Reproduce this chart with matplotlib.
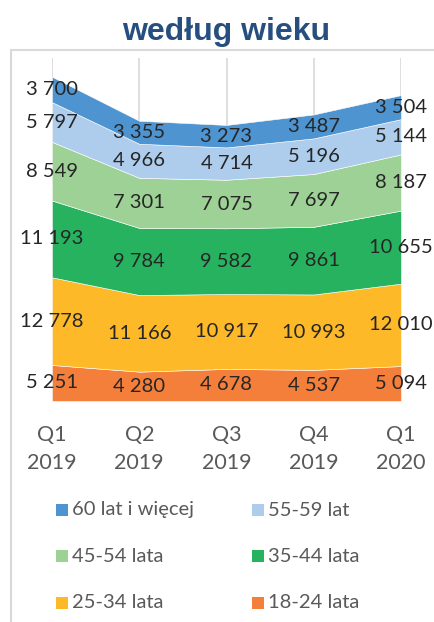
import matplotlib
matplotlib.use("Agg")
import matplotlib.pyplot as plt
from matplotlib.patches import Rectangle
import numpy as np

W, H = 434, 622
quarters = ['Q1\n2019', 'Q2\n2019', 'Q3\n2019', 'Q4\n2019', 'Q1\n2020']

# bottom to top
series_names = ['18-24 lata', '25-34 lata', '35-44 lata', '45-54 lata', '55-59 lat', '60 lat i więcej']
v_18_24 = [5251, 4280, 4678, 4537, 5094]
v_25_34 = [12778, 11166, 10917, 10993, 12010]
v_35_44 = [11193, 9784, 9582, 9861, 10655]
v_45_54 = [8549, 7301, 7075, 7697, 8187]
v_55_59 = [5797, 4966, 4714, 5196, 5144]
v_60 = [3700, 3355, 3273, 3487, 3504]
colors = ['#f47f3a', '#fdb927', '#27b25f', '#9dd195', '#aecdec', '#4e94d0']

values = [v_18_24, v_25_34, v_35_44, v_45_54, v_55_59, v_60]

plt.rcParams['font.family'] = ['Lato', 'DejaVu Sans']

fig = plt.figure(figsize=(W / 100, H / 100), dpi=100)

# outer frame
fig.patches.append(Rectangle((11 / W, -0.1), 2, 1.1 - 50 / H, transform=fig.transFigure,
                             fill=False, edgecolor='#d9d9d9', linewidth=1.5))

fig.text(226 / W, 1 - 32 / H, 'według wieku', ha='center', va='center',
         fontsize=23, fontweight='bold', color='#264f80', family='Liberation Sans')

left, right, top, bottom = 52, 401, 58, 401
ax = fig.add_axes([left / W, 1 - bottom / H, (right - left) / W, (bottom - top) / H])
x = np.arange(len(quarters))
ax.stackplot(x, *values, colors=colors, edgecolor='white', linewidth=0.4)
ax.set_xlim(0, 4)
ax.set_ylim(0, 50000)
for s in ax.spines.values():
    s.set_visible(False)
ax.set_yticks([])
ax.set_xticks(x)
ax.set_xticklabels(quarters, fontsize=15.5, color='#595959', linespacing=1.5)
ax.tick_params(axis='x', length=0, pad=17)
ax.grid(axis='x', color='#d9d9d9', linewidth=1.2)
ax.set_axisbelow(True)

base = np.zeros(len(quarters))
for vals in values:
    vals = np.array(vals)
    mids = base + vals / 2
    for xi, yi, v in zip(x, mids, vals):
        lab = f'{v:,}'.replace(',', ' ')
        ax.text(xi, yi, lab, ha='center', va='center', fontsize=14.5,
                color='#262626', clip_on=False)
    base = base + vals

# legend, drawn by hand in two columns, top row first
order = [5, 4, 3, 2, 1, 0]
rows = [order[0:2], order[2:4], order[4:6]]
ys = [510, 556, 603]
xs = [56, 252]
for r, pair in enumerate(rows):
    for c, idx in enumerate(pair):
        fig.patches.append(Rectangle((xs[c] / W, 1 - (ys[r] + 6) / H), 12 / W, 12 / H,
                                     transform=fig.transFigure, facecolor=colors[idx],
                                     edgecolor='none'))
        fig.text((xs[c] + 16) / W, 1 - ys[r] / H, series_names[idx], ha='left', va='center',
                 fontsize=14.5, color='#595959')

fig.savefig('out.png', dpi=100)
